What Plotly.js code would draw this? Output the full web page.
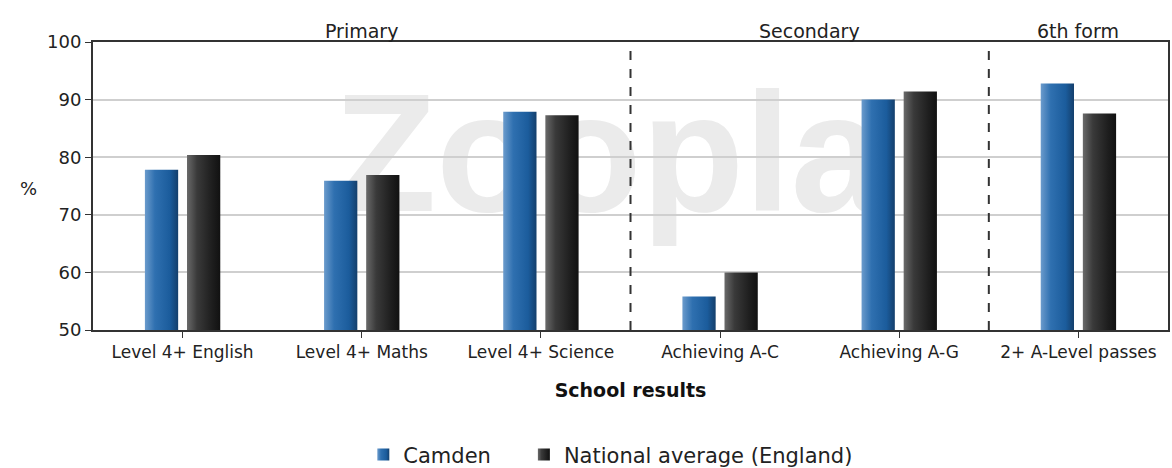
<!DOCTYPE html>
<html>
<head>
<meta charset="utf-8">
<script src="https://cdn.plot.ly/plotly-3.0.1.min.js"></script>
<style>
html,body{margin:0;padding:0;background:#fff;}
#chart{width:1172px;height:468px;}
</style>
</head>
<body>
<div id="chart"></div>
<script>
const categories = ["Level 4+ English", "Level 4+ Maths", "Level 4+ Science", "Achieving A-C", "Achieving A-G", "2+ A-Level passes"];
const camden = [77.8, 75.9, 87.9, 55.8, 90.0, 92.8];
const national = [80.4, 76.9, 87.3, 60.0, 91.4, 87.6];
const seriesNames = ["Camden", "National average (England)"];
const sections = ["Primary", "Secondary", "6th form"];
const sectionCounts = [3, 2, 1];
const yTicks = [50, 60, 70, 80, 90, 100];

const font = "DejaVu Sans, Verdana, sans-serif";

const traces = [
  {type: "bar", name: seriesNames[0], x: categories, y: camden, marker: {color: "#1f62a3"}, hoverinfo: "x+y", legend: "legend"},
  {type: "bar", name: seriesNames[1], x: categories, y: national, marker: {color: "#262626"}, hoverinfo: "x+y", legend: "legend2"}
];

const shapes = [];
const annotations = [];
let start = 0;
sections.forEach((s, i) => {
  const end = start + sectionCounts[i];
  annotations.push({
    text: s, xref: "x", yref: "paper", x: (start + end - 1) / 2, y: 1.0, yanchor: "bottom",
    showarrow: false, font: {family: font, size: 19, color: "#222"}, yshift: -2
  });
  if (i < sections.length - 1) {
    shapes.push({type: "line", xref: "x", yref: "paper", x0: end - 0.5, x1: end - 0.5, y0: 0, y1: 1,
      line: {color: "#333", width: 2, dash: "dash"}, layer: "above"});
  }
  start = end;
});
// watermark
shapes.push({type: "rect", xref: "paper", yref: "paper", x0: 0.2, x1: 0.76, y0: 0.37, y1: 0.97,
  line: {width: 0}, fillcolor: "rgba(0,0,0,0)", layer: "between",
  label: {text: "<b>Zoopla</b>", font: {family: "Liberation Sans, Arial, sans-serif", size: 168, color: "#ebebeb"}, textposition: "middle center"}});

const legendBase = {orientation: "h", xref: "container", yref: "container", xanchor: "left", y: 0.028, yanchor: "middle",
  font: {family: font, size: 21, color: "#222"}, itemwidth: 30, bgcolor: "rgba(0,0,0,0)"};

const layout = {
  width: 1172, height: 468,
  margin: {l: 93, r: 4, t: 42, b: 138, autoexpand: false},
  paper_bgcolor: "#fff", plot_bgcolor: "#fff",
  barmode: "group", bargap: 0.53, bargroupgap: 0.21,
  font: {family: font, size: 16, color: "#333"},
  xaxis: {
    type: "category", automargin: false, showline: true, linecolor: "#333", linewidth: 2, mirror: true,
    ticks: "outside", ticklen: 6, tickcolor: "#333", tickwidth: 1,
    tickfont: {family: font, size: 17, color: "#222"},
    title: {text: "<b>School results</b>", font: {family: font, size: 19, color: "#111"}, standoff: 22},
    fixedrange: true
  },
  yaxis: {
    range: [50, 100], tickvals: yTicks, automargin: false, showline: true, linecolor: "#333", linewidth: 2, mirror: true,
    ticks: "outside", ticklen: 6, tickcolor: "#333",
    showgrid: true, gridcolor: "#cfcfcf", gridwidth: 2, zeroline: false,
    tickfont: {family: font, size: 18, color: "#222"},
    title: {text: ""}
  },
  showlegend: true,
  legend: Object.assign({}, legendBase, {x: 0.31}),
  legend2: Object.assign({}, legendBase, {x: 0.447}),
  shapes: shapes,
  annotations: annotations.concat([
    {text: "%", xref: "paper", yref: "paper", x: -0.07, y: 0.49, showarrow: false,
     font: {family: font, size: 18, color: "#222"}}
  ])
};

Plotly.newPlot("chart", traces, layout, {displayModeBar: false, staticPlot: true}).then(gd => {
  const svg = gd.querySelector("svg.main-svg");
  const ns = "http://www.w3.org/2000/svg";
  let defs = svg.querySelector("defs");
  if (!defs) { defs = document.createElementNS(ns, "defs"); svg.insertBefore(defs, svg.firstChild); }
  function grad(id, stops) {
    const g = document.createElementNS(ns, "linearGradient");
    g.setAttribute("id", id); g.setAttribute("x1", "0"); g.setAttribute("x2", "1"); g.setAttribute("y1", "0"); g.setAttribute("y2", "0");
    stops.forEach(([o, c]) => { const s = document.createElementNS(ns, "stop"); s.setAttribute("offset", o); s.setAttribute("stop-color", c); g.appendChild(s); });
    defs.appendChild(g);
  }
  grad("gBlue", [["0", "#6b9bcc"], ["0.3", "#2f70b0"], ["0.75", "#1b5c9c"], ["1", "#143f6c"]]);
  grad("gBlack", [["0", "#6a6a6a"], ["0.3", "#3a3a3a"], ["0.75", "#1e1e1e"], ["1", "#111"]]);
  gd.querySelectorAll(".barlayer .trace").forEach((t, i) => {
    t.querySelectorAll("path").forEach(p => { p.style.fill = i === 0 ? "url(#gBlue)" : "url(#gBlack)"; });
  });
  gd.querySelectorAll(".legend .traces, .legend2 .traces, g[class^='legend'] .traces").forEach(t => {
    const name = t.textContent || "";
    const isCamden = name.indexOf(seriesNames[0]) === 0;
    t.querySelectorAll("path").forEach(p => { p.style.fill = isCamden ? "url(#gBlue)" : "url(#gBlack)"; p.style.stroke = "#333"; });
  });
});
</script>
</body>
</html>
